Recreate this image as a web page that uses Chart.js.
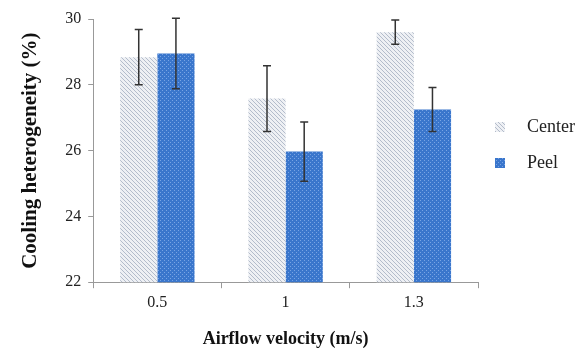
<!DOCTYPE html>
<html>
<head>
<meta charset="utf-8">
<script src="https://cdn.jsdelivr.net/npm/chart.js@4"></script>
<style>
  html, body { margin: 0; padding: 0; background: #fff; }
  #wrap { width: 578px; height: 350px; }
</style>
</head>
<body>
<div id="wrap"><canvas id="chart"></canvas></div>
<script>
const categories = ['0.5', '1', '1.3'];
const centerValues = [28.84, 27.58, 29.6];
const peelValues = [28.95, 25.97, 27.25];
const centerErr = [0.84, 1.0, 0.37];
const peelErr = [1.07, 0.9, 0.67];
const yTicks = [22, 24, 26, 28, 30];

const serif = "'Liberation Serif', 'DejaVu Serif', serif";

// hatched fill for Center, dotted fill for Peel
function makePattern(kind) {
  const c = document.createElement('canvas');
  const ctx = c.getContext('2d');
  c.width = 4; c.height = 4;
  if (kind === 'hatch') {
    ctx.fillStyle = '#eef0f4';
    ctx.fillRect(0, 0, 4, 4);
    ctx.strokeStyle = '#b3bccb';
    ctx.lineWidth = 1;
    ctx.beginPath();
    ctx.moveTo(-1, -1); ctx.lineTo(5, 5);
    ctx.moveTo(-1, 3); ctx.lineTo(1, 5);
    ctx.moveTo(3, -1); ctx.lineTo(5, 1);
    ctx.stroke();
  } else {
    ctx.fillStyle = '#3a76cc';
    ctx.fillRect(0, 0, 4, 4);
    ctx.fillStyle = '#78a4e4';
    ctx.fillRect(0, 0, 1, 1);
    ctx.fillRect(2, 2, 1, 1);
  }
  return ctx.createPattern(c, 'repeat');
}

const errorBars = {
  id: 'errorBars',
  afterDatasetsDraw(chart) {
    const ctx = chart.ctx;
    const y = chart.scales.y;
    const errs = [centerErr, peelErr];
    ctx.save();
    ctx.strokeStyle = '#333';
    ctx.lineWidth = 1.5;
    chart.data.datasets.forEach((ds, i) => {
      chart.getDatasetMeta(i).data.forEach((bar, j) => {
        const v = ds.data[j];
        const top = y.getPixelForValue(v + errs[i][j]);
        const bot = y.getPixelForValue(v - errs[i][j]);
        ctx.beginPath();
        ctx.moveTo(bar.x, top); ctx.lineTo(bar.x, bot);
        ctx.moveTo(bar.x - 4, top); ctx.lineTo(bar.x + 4, top);
        ctx.moveTo(bar.x - 4, bot); ctx.lineTo(bar.x + 4, bot);
        ctx.stroke();
      });
    });
    ctx.restore();
  }
};

// legend on the right, drawn by hand so box/text spacing matches
const sideLegend = {
  id: 'sideLegend',
  afterDraw(chart) {
    const ctx = chart.ctx;
    const x = chart.chartArea.right + 17;
    const y0 = 127, step = 36;
    ctx.save();
    ctx.font = Chart.helpers.toFont({ family: serif, size: 18 }).string;
    ctx.textBaseline = 'middle';
    chart.data.datasets.forEach((ds, i) => {
      const y = y0 + i * step;
      ctx.fillStyle = ds.backgroundColor;
      ctx.fillRect(x, y - 5, 10, 10);
      ctx.fillStyle = '#222';
      ctx.fillText(ds.label, x + 32, y);
    });
    ctx.restore();
  }
};

new Chart(document.getElementById('chart'), {
  type: 'bar',
  data: {
    labels: categories,
    datasets: [
      { label: 'Center', data: centerValues, backgroundColor: makePattern('hatch') },
      { label: 'Peel', data: peelValues, backgroundColor: makePattern('dots') }
    ]
  },
  options: {
    responsive: true,
    maintainAspectRatio: false,
    animation: false,
    layout: { padding: { left: 14, top: 19, right: 100, bottom: -4 } },
    datasets: { bar: { barPercentage: 1, categoryPercentage: 0.58 } },
    plugins: {
      legend: { display: false },
      tooltip: { enabled: false }
    },
    scales: {
      x: {
        grid: { drawOnChartArea: false, color: '#999', tickLength: 6 },
        border: { color: '#999' },
        ticks: { font: { family: serif, size: 16 }, color: '#222', padding: 5 },
        title: {
          display: true,
          text: 'Airflow velocity (m/s)',
          font: { family: serif, size: 18, weight: 'bold' },
          color: '#111',
          padding: { top: 11 }
        }
      },
      y: {
        min: 22,
        max: 30,
        afterBuildTicks(axis) { axis.ticks = yTicks.map(v => ({ value: v })); },
        grid: { drawOnChartArea: false, color: '#999', tickLength: 5 },
        border: { color: '#999' },
        ticks: { font: { family: serif, size: 16 }, color: '#222', padding: 7 },
        title: {
          display: true,
          text: 'Cooling heterogeneity (%)',
          font: { family: serif, size: 21, weight: 'bold' },
          color: '#111',
          padding: { bottom: 15 }
        }
      }
    }
  },
  plugins: [errorBars, sideLegend]
});
</script>
</body>
</html>
